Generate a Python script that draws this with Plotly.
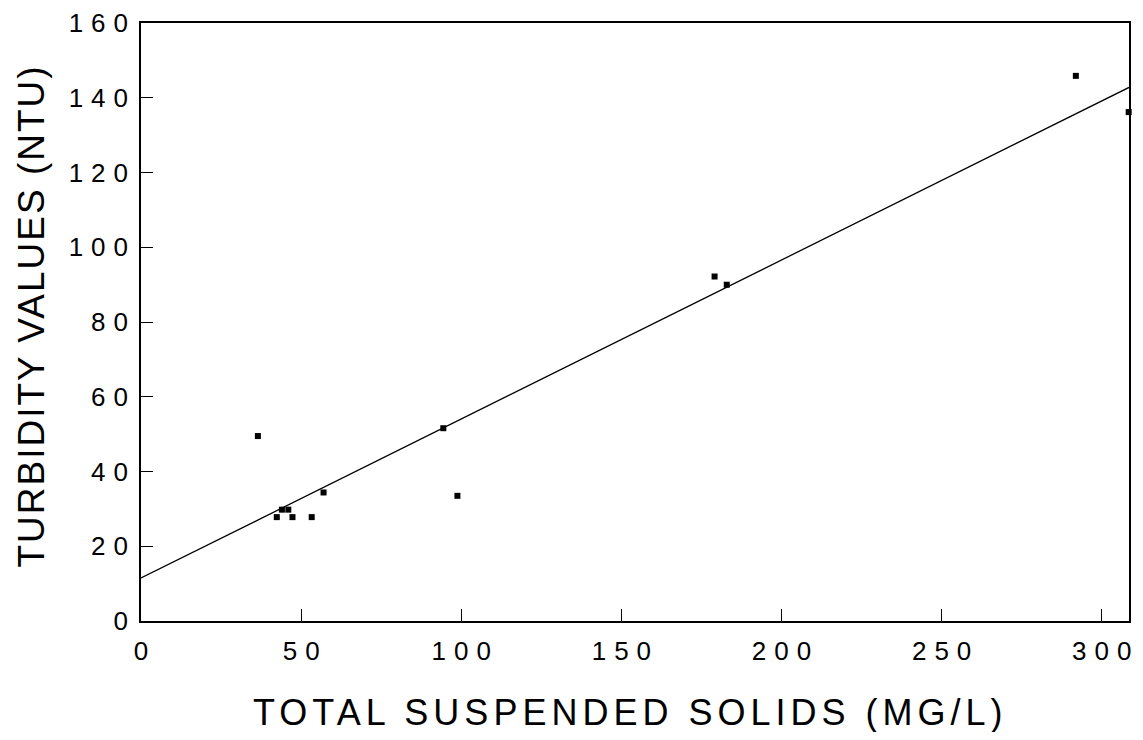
import plotly.graph_objects as go

# measured points (total suspended solids mg/L vs turbidity NTU)
tss = [36.5, 42.4, 44.0, 46.0, 47.3, 53.3, 57.0, 94.4, 98.8, 179.1, 182.9, 291.9, 308.4]
turbidity = [49.5, 27.8, 29.8, 29.8, 27.8, 27.8, 34.4, 51.6, 33.5, 92.2, 90.0, 145.9, 136.2]

# regression line end points
fit_x = [0, 308.5]
fit_y = [11.5, 142.8]

x_ticks = [0, 50, 100, 150, 200, 250, 300]
y_ticks = [0, 20, 40, 60, 80, 100, 120, 140, 160]

x_title = "TOTAL SUSPENDED SOLIDS (MG/L)"
y_title = "TURBIDITY VALUES (NTU)"

font_name = "Liberation Sans"


def spaced(text, px):
    # wide letter spacing like the old plotter lettering (none after the last char)
    text = str(text)
    if len(text) < 2:
        return text
    return "<span style='letter-spacing:%spx'>%s</span>%s" % (px, text[:-1], text[-1])


fig = go.Figure()
fig.add_trace(go.Scatter(x=fit_x, y=fit_y, mode="lines",
                         line=dict(color="black", width=1.3), showlegend=False))
fig.add_trace(go.Scatter(x=tss, y=turbidity, mode="markers", cliponaxis=False,
                         marker=dict(symbol="square", size=6, color="black"),
                         showlegend=False))

axis_style = dict(showline=True, linecolor="black", linewidth=1.5, mirror=True,
                  showgrid=False, zeroline=False, ticks="inside", ticklen=12,
                  tickwidth=1.3, tickcolor="black", ticklabeloverflow="allow",
                  automargin=False,
                  tickfont=dict(family=font_name, size=26, color="black"))

fig.update_xaxes(range=[0, 308.5], tickvals=x_ticks,
                 ticktext=[spaced(v, 8) for v in x_ticks],
                 ticklabelstandoff=6, **axis_style)
fig.update_yaxes(range=[0, 160.05], tickvals=y_ticks,
                 ticktext=[spaced(v, 8) for v in y_ticks],
                 ticklabelstandoff=6, **axis_style)

fig.add_annotation(text=spaced(x_title, 5), xref="paper", yref="paper",
                   x=0.492, y=-0.153, xanchor="center", yanchor="middle",
                   showarrow=False, font=dict(family=font_name, size=36, color="black"))
fig.add_annotation(text=spaced(y_title, 2), xref="paper", yref="paper",
                   x=-0.111, y=0.508, xanchor="center", yanchor="middle", textangle=-90,
                   showarrow=False, font=dict(family=font_name, size=37, color="black"))

fig.update_layout(width=1127, height=724, plot_bgcolor="white", paper_bgcolor="white",
                  margin=dict(l=133, r=6, t=15, b=111, autoexpand=False))

fig.write_html("out.html")
